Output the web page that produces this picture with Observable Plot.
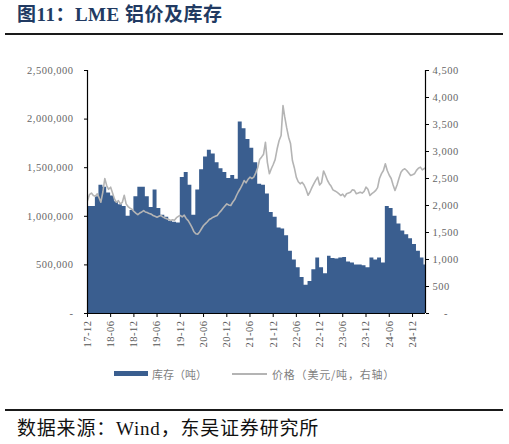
<!DOCTYPE html>
<html>
<head>
<meta charset="utf-8">
<script src="https://cdn.jsdelivr.net/npm/d3@7"></script>
<script src="https://cdn.jsdelivr.net/npm/@observablehq/plot@0.6"></script>
<style>
  html, body { margin: 0; padding: 0; background: #fff; }
  body { width: 509px; height: 444px; position: relative; overflow: hidden; font-family: "Liberation Serif", "Noto Sans CJK SC", serif; }
  .abs { position: absolute; white-space: nowrap; }
  #title { left: 17px; top: 4px; font-size: 19px; line-height: 22px; letter-spacing: 0.5px; font-weight: bold; color: #213a62; font-family: "Liberation Serif", "Noto Sans CJK SC", serif; }
  .rule { position: absolute; left: 5px; width: 498px; height: 2px; background: #1a1a1a; }
  #chart { position: absolute; left: 0; top: 55px; }
  .leg { font-size: 11px; line-height: 14px; color: #7f7f7f; font-family: "Noto Sans CJK SC", sans-serif; }
  #source { left: 17px; top: 418px; font-size: 19px; line-height: 22px; letter-spacing: 0.8px; color: #111; font-family: "Liberation Serif", "Noto Sans CJK SC", serif; }
</style>
</head>
<body>
<div id="title" class="abs">图11：LME 铝价及库存</div>
<div class="rule" style="top:33px"></div>
<div id="chart"></div>
<div class="abs" style="left:114px; top:371px; width:34px; height:5px; background:#3a5e8f"></div>
<div class="abs leg" style="left:152px; top:367px">库存（吨）</div>
<div class="abs" style="left:232px; top:373px; width:35px; height:1.5px; background:#b4b4b4"></div>
<div class="abs leg" style="left:272px; top:367px; letter-spacing:0.8px">价格（美元/吨，右轴）</div>
<div class="rule" style="top:409px"></div>
<div id="source" class="abs">数据来源：Wind，东吴证券研究所</div>
<script>
// LME aluminium inventory, monthly from 2017-12 to 2025-03 (thousand tonnes)
const inventoryK = [
  1100,1100,1200,1320,1300,1240,1210,1150,1120,1100,
  1000,1060,1200,1300,1300,1200,1090,1270,1080,1010,
  990,950,940,930,1400,1450,1320,1010,1270,1480,
  1610,1680,1640,1550,1490,1450,1390,1420,1380,1970,
  1900,1790,1700,1550,1330,1320,1230,1040,990,880,
  870,800,640,550,470,370,290,330,450,570,
  470,410,590,565,560,570,575,530,520,500,
  500,490,470,570,550,570,520,1100,1080,1000,
  920,850,810,770,710,640,570,500
];
// LME aluminium price, twice a month from 2017-12 (USD/t)
const priceUSD = [
  2090,2200,2230,2185,2170,2217,2150,2060,2250,2500,
  2370,2300,2339,2230,2120,2060,2090,2030,2060,2190,
  2030,1980,1950,1930,1890,1860,1830,1860,1880,1907,
  1880,1870,1850,1840,1815,1800,1784,1800,1815,1790,
  1770,1753,1740,1722,1735,1725,1775,1800,1815,1790,
  1820,1760,1720,1661,1600,1520,1476,1470,1510,1570,
  1630,1665,1700,1740,1760,1784,1800,1815,1860,1900,
  1950,1990,2030,2010,2000,2060,2110,2190,2250,2310,
  2380,2463,2420,2480,2525,2500,2525,2600,2700,2850,
  2900,2950,3172,2800,2587,2680,2760,2850,3050,3200,
  3296,3850,3650,3450,3265,3150,2833,2700,2520,2440,
  2402,2430,2380,2300,2190,2250,2330,2402,2470,2525,
  2380,2420,2640,2560,2463,2400,2360,2290,2270,2247,
  2220,2185,2210,2160,2217,2230,2247,2290,2280,2217,
  2230,2247,2230,2260,2340,2300,2185,2220,2247,2280,
  2330,2500,2590,2648,2772,2648,2560,2500,2380,2278,
  2380,2500,2617,2660,2680,2648,2600,2556,2570,2587,
  2650,2690,2710,2660,2680,2700
];
const leftTicks = [0, 500000, 1000000, 1500000, 2000000, 2500000];
const rightTicks = [0, 500, 1000, 1500, 2000, 2500, 3000, 3500, 4000, 4500];
const xTickLabels = ["17-12","18-06","18-12","19-06","19-12","20-06","20-12","21-06","21-12","22-06","22-12","23-06","23-12","24-06","24-12"];

const start = new Date(Date.UTC(2017, 11, 1));
const end = new Date(Date.UTC(2025, 2, 13));
const inv = inventoryK.map((v, i) => ({date: new Date(Date.UTC(2017, 11 + i, 1)), value: v * 1000}));
// the last month's column runs to the right edge of the plot
inv.push({date: new Date(Date.UTC(2017, 11 + inventoryK.length, 1)), value: inv[inv.length - 1].value});
const price = priceUSD.map((v, k) => ({date: new Date(Date.UTC(2017, 11 + (k >> 1), k % 2 ? 16 : 1)), value: v}));
const xTicks = xTickLabels.map(s => new Date(Date.UTC(2000 + +s.slice(0, 2), +s.slice(3) - 1, 1)));
const scale = 2500000 / 4500;
const fmt = d3.format(",");
const blue = "#3a5e8f";

const chart = Plot.plot({
  width: 509,
  height: 300,
  marginTop: 15,
  marginBottom: 42,
  marginLeft: 87,
  marginRight: 84,
  style: {fontFamily: "'Liberation Serif', serif", fontSize: "10.5px", color: "#666", background: "white", letterSpacing: "0.5px"},
  x: {type: "utc", domain: [start, end], axis: null},
  y: {domain: [0, 2500000], axis: null},
  marks: [
    Plot.areaY(inv, {x: "date", y: "value", curve: "step-after", fill: blue, clip: true}),
    Plot.lineY(price, {x: "date", y: d => d.value * scale, stroke: "#b4b4b4", strokeWidth: 1.6, clip: true}),
    Plot.ruleX([start], {stroke: "#000", strokeWidth: 1.2}),
    Plot.ruleX([end], {stroke: "#000", strokeWidth: 1.2}),
    Plot.ruleY([0], {stroke: "#000", strokeWidth: 1.2}),
    Plot.axisY(leftTicks, {anchor: "left", label: null, tickSize: 3, tickPadding: 11, stroke: "#000", tickFormat: d => d === 0 ? "-" : fmt(d)}),
    Plot.axisY(rightTicks.map(p => p * scale), {anchor: "right", label: null, tickSize: 3, tickPadding: 4, stroke: "#000", tickFormat: d => { const p = Math.round(d / scale); return p === 0 ? "\u2002\u2002-" : fmt(p); }}),
    Plot.axisX(xTicks, {anchor: "bottom", label: null, tickSize: 4, tickPadding: 3, tickRotate: -90, stroke: "#000", tickFormat: d3.utcFormat("%y-%m"), fill: "#555"})
  ]
});
document.getElementById("chart").appendChild(chart);
</script>
</body>
</html>
